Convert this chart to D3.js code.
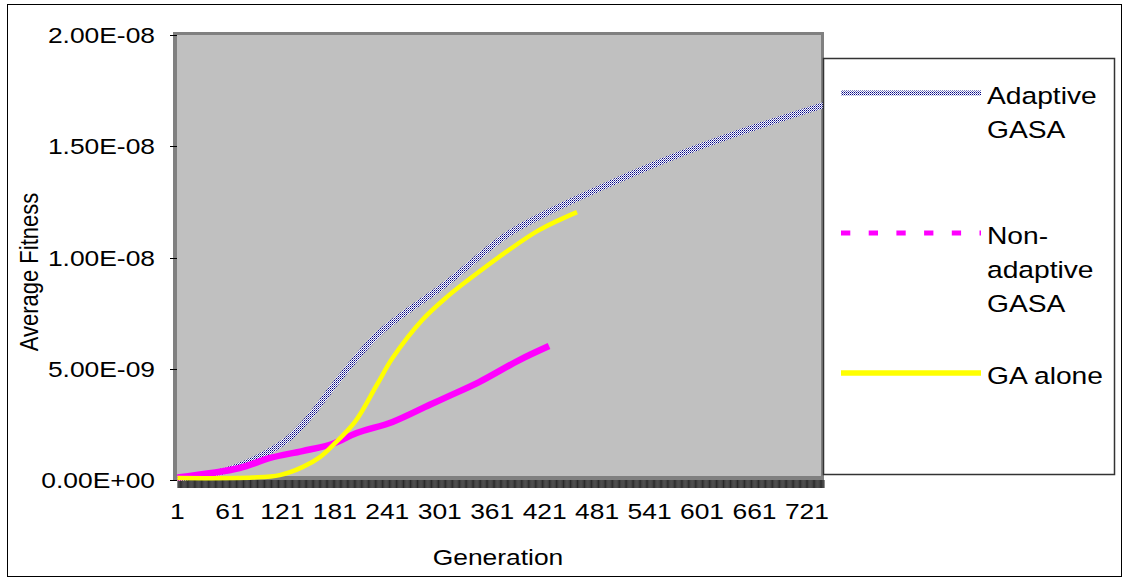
<!DOCTYPE html>
<html>
<head>
<meta charset="utf-8">
<script src="https://cdn.jsdelivr.net/npm/d3@7"></script>
<style>
  html, body { margin: 0; padding: 0; background: #fff; }
  svg { display: block; }
  text { font-family: Arial, "Liberation Sans", sans-serif; fill: #000; }
</style>
</head>
<body>
<svg id="chart" width="1125" height="580"></svg>
<script>
// Number of generations on the category axis and labelled ticks
const generationCount = 740;
const xTickLabels = [1, 61, 121, 181, 241, 301, 361, 421, 481, 541, 601, 661, 721];
const yTickValues = [0, 5e-9, 1e-8, 1.5e-8, 2e-8];

// Adaptive GASA: average fitness sampled along the run
const adaptiveGen = [1, 50, 87, 126, 152, 183, 232, 309, 377, 423, 483, 560, 635, 740];
const adaptiveFit = [0.09e-9, 0.36e-9, 0.90e-9, 1.80e-9, 2.83e-9, 4.40e-9, 6.61e-9, 8.85e-9, 11.0e-9, 12.0e-9, 13.1e-9, 14.4e-9, 15.5e-9, 16.85e-9];

// Non-adaptive GASA
const nonAdaptiveGen = [1, 72, 107, 144, 178, 206, 247, 289, 312, 346, 392, 426];
const nonAdaptiveFit = [0.11e-9, 0.54e-9, 0.99e-9, 1.30e-9, 1.62e-9, 2.11e-9, 2.61e-9, 3.37e-9, 3.78e-9, 4.40e-9, 5.39e-9, 6.02e-9];

// GA alone
const gaGen = [1, 87, 118, 144, 164, 179, 204, 229, 247, 281, 309, 338, 377, 415, 458];
const gaFit = [0.09e-9, 0.11e-9, 0.22e-9, 0.58e-9, 1.03e-9, 1.57e-9, 2.61e-9, 4.27e-9, 5.48e-9, 7.19e-9, 8.22e-9, 9.12e-9, 10.25e-9, 11.24e-9, 12.04e-9];

const seriesNames = ["Adaptive GASA", "Non-adaptive GASA", "GA alone"];

const svg = d3.select("#chart");
const SX = 1.2; // wide glyph proportions used for all labels

// outer frame
svg.append("rect")
  .attr("x", 7.5).attr("y", 4.5).attr("width", 1114).attr("height", 572)
  .attr("fill", "none").attr("stroke", "#000").attr("stroke-width", 1);

// scales
const x = d3.scaleLinear().domain([0.5, generationCount + 0.5]).range([177, 824]);
const y = d3.scaleLinear().domain([0, 2e-8]).range([480, 35]);

// plot area: dark frame with grey face
svg.append("rect").attr("x", 173).attr("y", 32).attr("width", 651).attr("height", 448).attr("fill", "#808080");
svg.append("rect").attr("x", 177).attr("y", 35).attr("width", 644).attr("height", 441).attr("fill", "#C0C0C0");

// texture for the adaptive series
const defs = svg.append("defs");
const pat = defs.append("pattern").attr("id", "adaptiveTexture")
  .attr("patternUnits", "userSpaceOnUse").attr("width", 2).attr("height", 2);
pat.append("rect").attr("width", 2).attr("height", 2).attr("fill", "#ffffff");
pat.append("rect").attr("x", 0).attr("y", 0).attr("width", 1).attr("height", 1).attr("fill", "#000080");
pat.append("rect").attr("x", 1).attr("y", 1).attr("width", 1).attr("height", 1).attr("fill", "#7070c0");

// category tick marks along the bottom
const allGens = d3.range(1, generationCount + 1);
const xTicksAxis = d3.axisBottom(x).tickValues(allGens).tickSize(8).tickFormat("");
const gTicks = svg.append("g").attr("transform", "translate(0,480)").call(xTicksAxis);
gTicks.select(".domain").remove();
gTicks.selectAll(".tick line").attr("stroke", "#000").attr("stroke-width", 0.8);

// x tick labels
const xLab = svg.append("g");
xTickLabels.forEach(g => {
  xLab.append("text")
    .attr("transform", `translate(${x(g)},519) scale(${SX},1)`)
    .attr("text-anchor", "middle").attr("font-size", 22).text(g);
});

// y axis ticks and labels
function sci(v) {
  if (v === 0) return "0.00E+00";
  const [m, e] = v.toExponential(2).split("e");
  const n = parseInt(e, 10);
  return m + "E" + (n < 0 ? "-" : "+") + String(Math.abs(n)).padStart(2, "0");
}
const yAxis = d3.axisLeft(y).tickValues(yTickValues).tickSize(7).tickFormat("");
const gY = svg.append("g").attr("transform", "translate(177,0)").call(yAxis);
gY.select(".domain").remove();
gY.selectAll(".tick line").attr("stroke", "#000").attr("shape-rendering", "crispEdges");
yTickValues.forEach(v => {
  svg.append("text")
    .attr("transform", `translate(155,${y(v) + 8}) scale(${SX},1)`)
    .attr("text-anchor", "end").attr("font-size", 22).text(sci(v));
});

// axis titles
svg.append("text")
  .attr("transform", `translate(498,565) scale(${SX},1)`)
  .attr("text-anchor", "middle").attr("font-size", 22).text("Generation");
svg.append("text")
  .attr("transform", `translate(38,272) rotate(-90) scale(1,${SX})`)
  .attr("text-anchor", "middle").attr("font-size", 22).text("Average Fitness");

// series lines
const line = d3.line().x(d => x(d[0])).y(d => y(d[1])).curve(d3.curveCatmullRom.alpha(0.5));
const adaptive = d3.zip(adaptiveGen, adaptiveFit);
const nonAdaptive = d3.zip(nonAdaptiveGen, nonAdaptiveFit);
const gaAlone = d3.zip(gaGen, gaFit);

const plot = svg.append("g");
plot.append("path").datum(adaptive).attr("d", line)
  .attr("fill", "none").attr("stroke", "url(#adaptiveTexture)").attr("stroke-width", 6)
  .attr("stroke-linejoin", "round");
plot.append("path").datum(nonAdaptive).attr("d", line)
  .attr("fill", "none").attr("stroke", "#FF00FF").attr("stroke-width", 6.5)
  .attr("stroke-linejoin", "round");
plot.append("path").datum(gaAlone).attr("d", line)
  .attr("fill", "none").attr("stroke", "#FFFF00").attr("stroke-width", 4.5)
  .attr("stroke-linejoin", "round");

// legend
const lg = svg.append("g");
lg.append("rect").attr("x", 823.5).attr("y", 58.5).attr("width", 291).attr("height", 416)
  .attr("fill", "#fff").attr("stroke", "#333").attr("stroke-width", 1.5);

const legendItems = [
  { lines: ["Adaptive", "GASA"], y: 93, top: 104 },
  { lines: ["Non-", "adaptive", "GASA"], y: 233, top: 244 },
  { lines: ["GA alone"], y: 373, top: 384 }
];
legendItems.forEach((it, i) => {
  const sample = lg.append("line").attr("x1", 841).attr("x2", 981)
    .attr("y1", it.y).attr("y2", it.y);
  if (i === 0) sample.attr("stroke", "url(#adaptiveTexture)").attr("stroke-width", 5);
  if (i === 1) sample.attr("stroke", "#FF00FF").attr("stroke-width", 5).attr("stroke-dasharray", "9.3,18.4");
  if (i === 2) sample.attr("stroke", "#FFFF00").attr("stroke-width", 5.5);
  it.lines.forEach((t, k) => {
    lg.append("text")
      .attr("transform", `translate(987,${it.top + k * 34}) scale(${SX},1)`)
      .attr("font-size", 23.5).text(t);
  });
});
</script>
</body>
</html>
